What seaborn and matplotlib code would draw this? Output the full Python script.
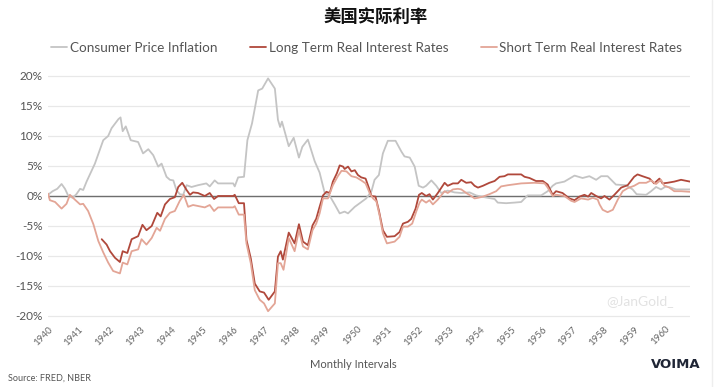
import pandas as pd
import seaborn as sns
from matplotlib import pyplot as plt
from matplotlib.lines import Line2D

# values (x = fractional year, y = percent)
cpi_x = [1940.00, 1940.15, 1940.30, 1940.44, 1940.55, 1940.66, 1940.80, 1940.92, 1941.04, 1941.14,
         1941.25, 1941.52, 1941.79, 1941.95, 1942.06, 1942.28, 1942.35, 1942.42, 1942.52, 1942.68,
         1942.92, 1943.08, 1943.25, 1943.41, 1943.57, 1943.68, 1943.84, 1943.95, 1944.06, 1944.16,
         1944.27, 1944.38, 1944.49, 1944.65, 1944.86, 1945.13, 1945.24, 1945.40, 1945.51, 1946.00,
         1946.05, 1946.16, 1946.35, 1946.46, 1946.61, 1946.81, 1946.94, 1947.13, 1947.35, 1947.45,
         1947.52, 1947.58, 1947.80, 1947.96, 1948.13, 1948.24, 1948.42, 1948.64, 1948.80, 1948.96,
         1949.13, 1949.30, 1949.45, 1949.61, 1949.72, 1949.94, 1950.10, 1950.31, 1950.48, 1950.58,
         1950.72, 1950.85, 1951.01, 1951.26, 1951.45, 1951.55, 1951.72, 1951.88, 1952.01, 1952.15,
         1952.25, 1952.42, 1952.58, 1952.74, 1952.95, 1953.17, 1953.39, 1953.66, 1953.87, 1954.14,
         1954.47, 1954.57, 1954.84, 1955.11, 1955.33, 1955.54, 1955.98, 1956.19, 1956.35, 1956.46,
         1956.73, 1957.06, 1957.32, 1957.54, 1957.76, 1957.92, 1958.13, 1958.40, 1958.73, 1958.94,
         1959.07, 1959.38, 1959.54, 1959.70, 1959.86, 1960.02, 1960.18, 1960.34, 1960.80]
cpi_y = [0.2, 0.8, 1.2, 2.0, 1.2, 0.0, -0.3, 0.3, 1.2, 1.0,
         2.4, 5.4, 9.3, 10.0, 11.3, 12.8, 13.1, 10.8, 11.6, 9.3,
         9.0, 7.1, 7.8, 6.8, 4.9, 5.4, 3.2, 2.7, 2.6, 1.0,
         0.3, 0.2, 1.8, 1.5, 1.8, 2.1, 1.6, 2.6, 2.1, 2.1,
         1.6, 3.1, 3.2, 9.3, 12.1, 17.6, 17.9, 19.6, 17.9, 12.7,
         11.5, 12.4, 8.3, 9.7, 6.4, 8.2, 9.4, 5.8, 3.9, 0.6,
         0.0, -1.5, -2.9, -2.6, -2.9, -1.8, -1.2, -0.4, 0.8, 2.7,
         3.5, 7.1, 9.2, 9.2, 7.4, 6.6, 6.4, 4.9, 1.7, 1.4,
         1.7, 2.6, 1.7, 0.5, 0.9, 0.6, 0.5, 0.6, 0.1, -0.2,
         -0.5, -1.1, -1.2, -1.1, -1.0, 0.1, 0.1, 0.8, 1.7, 2.1,
         2.4, 3.4, 3.0, 3.3, 2.7, 3.3, 3.3, 1.9, 1.8, 1.1,
         0.3, 0.2, 0.8, 1.5, 1.1, 1.6, 1.4, 1.1, 1.1]

long_x = [1941.74, 1941.90, 1942.01, 1942.17, 1942.33, 1942.42, 1942.57, 1942.71, 1942.92, 1943.06,
          1943.19, 1943.36, 1943.54, 1943.65, 1943.79, 1943.95, 1944.11, 1944.22, 1944.35, 1944.49,
          1944.60, 1944.70, 1944.86, 1945.08, 1945.24, 1945.38, 1945.51, 1946.00, 1946.05, 1946.18,
          1946.35, 1946.43, 1946.57, 1946.70, 1946.86, 1947.00, 1947.15, 1947.35, 1947.45, 1947.54,
          1947.61, 1947.80, 1947.99, 1948.13, 1948.26, 1948.42, 1948.57, 1948.69, 1948.80, 1948.91,
          1949.02, 1949.13, 1949.23, 1949.36, 1949.45, 1949.56, 1949.61, 1949.72, 1949.83, 1949.94,
          1950.04, 1950.15, 1950.29, 1950.40, 1950.48, 1950.61, 1950.72, 1950.85, 1950.98, 1951.23,
          1951.39, 1951.50, 1951.66, 1951.77, 1951.91, 1952.02, 1952.11, 1952.25, 1952.36, 1952.47,
          1952.63, 1952.85, 1952.95, 1953.12, 1953.28, 1953.39, 1953.55, 1953.71, 1953.82, 1953.93,
          1954.09, 1954.30, 1954.47, 1954.63, 1954.79, 1954.90, 1955.11, 1955.33, 1955.44, 1955.60,
          1955.81, 1956.03, 1956.19, 1956.35, 1956.46, 1956.67, 1956.89, 1957.06, 1957.22, 1957.38,
          1957.50, 1957.60, 1957.76, 1957.92, 1958.03, 1958.19, 1958.35, 1958.57, 1958.78, 1958.99,
          1959.10, 1959.26, 1959.49, 1959.64, 1959.81, 1959.91, 1960.07, 1960.29, 1960.51, 1960.80]
long_y = [-7.2, -8.1, -9.2, -10.3, -11.0, -9.2, -9.5, -7.2, -6.7, -4.8,
          -5.7, -5.0, -2.8, -3.4, -1.4, -0.5, -0.2, 1.5, 2.2, 1.0,
          0.2, 0.6, 0.5, 0.0, 0.5, -0.5, 0.0, 0.0, 0.2, -1.2,
          -1.2, -7.3, -10.4, -14.6, -15.9, -16.1, -17.3, -15.9, -10.1, -9.2,
          -10.6, -6.1, -7.9, -4.7, -7.6, -8.2, -4.9, -3.8, -1.8, 0.1,
          0.7, 0.5, 2.4, 3.8, 5.1, 4.9, 4.5, 4.9, 4.1, 4.3,
          3.5, 3.1, 2.9, 1.3, 0.0, -0.1, -2.4, -5.7, -6.8, -6.7,
          -6.0, -4.6, -4.3, -3.8, -2.1, 0.2, 0.5, 0.0, 0.3, -0.6,
          0.5, 2.2, 1.7, 2.1, 2.1, 2.7, 2.2, 2.3, 1.7, 1.4,
          1.7, 2.2, 2.5, 3.2, 3.3, 3.6, 3.6, 3.6, 3.2, 3.0,
          2.5, 2.5, 1.9, 0.2, 0.8, 0.5, -0.4, -0.7, -0.1, 0.2,
          -0.1, 0.5, 0.0, -0.4, 0.0, -0.6, 0.2, 1.4, 1.8, 3.2,
          3.6, 3.3, 2.9, 2.1, 2.9, 2.1, 2.2, 2.4, 2.7, 2.4]

short_x = [1940.00, 1940.06, 1940.23, 1940.44, 1940.60, 1940.71, 1940.87, 1941.04, 1941.14, 1941.30,
           1941.47, 1941.63, 1941.79, 1941.95, 1942.11, 1942.33, 1942.42, 1942.57, 1942.71, 1942.92,
           1943.03, 1943.19, 1943.36, 1943.52, 1943.63, 1943.79, 1943.95, 1944.11, 1944.27, 1944.40,
           1944.54, 1944.70, 1945.08, 1945.24, 1945.38, 1945.51, 1946.00, 1946.05, 1946.18, 1946.35,
           1946.43, 1946.57, 1946.70, 1946.86, 1947.00, 1947.13, 1947.35, 1947.45, 1947.54, 1947.63,
           1947.80, 1947.99, 1948.13, 1948.26, 1948.42, 1948.57, 1948.69, 1948.80, 1948.91, 1949.07,
           1949.23, 1949.39, 1949.51, 1949.67, 1949.83, 1949.99, 1950.15, 1950.29, 1950.42, 1950.53,
           1950.64, 1950.75, 1950.85, 1950.98, 1951.23, 1951.39, 1951.50, 1951.66, 1951.80, 1951.93,
           1952.04, 1952.11, 1952.25, 1952.36, 1952.47, 1952.63, 1952.85, 1952.95, 1953.12, 1953.28,
           1953.39, 1953.55, 1953.71, 1953.82, 1953.93, 1954.09, 1954.30, 1954.52, 1954.68, 1954.90,
           1955.33, 1955.76, 1956.09, 1956.19, 1956.35, 1956.46, 1956.73, 1956.95, 1957.06, 1957.27,
           1957.50, 1957.65, 1957.81, 1957.87, 1957.97, 1958.13, 1958.30, 1958.46, 1958.62, 1958.78,
           1958.99, 1959.16, 1959.38, 1959.54, 1959.70, 1959.86, 1959.97, 1960.13, 1960.29, 1960.51,
           1960.80]
short_y = [0.4, -0.7, -1.0, -2.1, -1.3, 0.2, -0.6, -1.4, -1.3, -2.5,
           -4.7, -7.5, -9.4, -11.1, -12.5, -12.9, -11.1, -11.4, -9.2, -8.9,
           -7.2, -8.1, -7.0, -5.3, -5.8, -3.8, -2.8, -2.5, -0.8, 0.2,
           -1.8, -1.5, -1.9, -1.5, -2.5, -1.9, -1.9, -1.7, -3.1, -3.1,
           -7.9, -11.2, -15.7, -17.3, -17.9, -19.2, -17.9, -11.2, -11.2, -12.3,
           -7.0, -9.2, -5.7, -8.4, -8.9, -5.7, -4.6, -2.9, -0.4, -0.4,
           1.8, 3.3, 4.2, 4.1, 3.3, 3.1, 2.6, 2.1, 0.5, -0.4,
           -0.9, -3.4, -6.2, -7.9, -7.6, -6.8, -5.1, -5.1, -4.6, -2.6,
           -1.1, -0.6, -1.1, -0.7, -1.4, -0.6, 0.8, 0.5, 1.1, 1.2,
           1.1, 0.5, 0.0, -0.4, -0.3, -0.1, 0.3, 0.8, 1.6, 1.8,
           2.1, 2.2, 2.1, 1.4, 0.0, 0.2, 0.0, -0.8, -1.0, -0.4,
           -0.6, -0.3, -0.6, -1.4, -2.3, -2.7, -2.3, -0.6, 0.8, 1.3,
           1.7, 2.2, 2.2, 2.6, 2.0, 2.7, 1.7, 1.4, 0.8, 0.8,
           0.7]

series_names = ["Consumer Price Inflation", "Long Term Real Interest Rates", "Short Term Real Interest Rates"]
colors = ["#c4c4c4", "#b0483b", "#e3a596"]
years = list(range(1940, 1961))

df = pd.concat([
    pd.DataFrame({"year": cpi_x, "rate": cpi_y, "series": series_names[0]}),
    pd.DataFrame({"year": long_x, "rate": long_y, "series": series_names[1]}),
    pd.DataFrame({"year": short_x, "rate": short_y, "series": series_names[2]}),
])

sns.set_style("white")
plt.rcParams["font.family"] = ["Lato", "DejaVu Sans"]

fig = plt.figure(figsize=(7.19, 3.87), dpi=100)
ax = fig.add_axes([48 / 719, 1 - 319 / 387, 642 / 719, 246 / 387])

sns.lineplot(data=df, x="year", y="rate", hue="series", hue_order=series_names,
             palette=colors, estimator=None, sort=True, linewidth=1.3, ax=ax)

ax.set_xlim(1940.0, 1960.80)
ax.set_ylim(-20.5, 20.5)
ax.set_yticks(range(-20, 21, 5))
ax.set_yticklabels(["%d%%" % v for v in range(-20, 21, 5)], fontsize=8.5, color="#555555")
ax.set_xticks(years)
ax.set_xticklabels([str(y) for y in years], rotation=45, ha="right", rotation_mode="anchor",
                   fontsize=7, color="#666666")
ax.tick_params(axis="both", length=0, pad=4)
ax.yaxis.grid(True, color="#e8e8e8", linewidth=0.9)
ax.axhline(0, color="#6e6e6e", linewidth=1.0, zorder=1)
for s in ax.spines.values():
    s.set_visible(False)
ax.set_xlabel("")
ax.set_ylabel("")

sns.move_legend(ax, "center", bbox_to_anchor=(0.51, 1 - 48 / 387), bbox_transform=fig.transFigure,
                ncol=3, frameon=False, title=None, fontsize=9.7, handlelength=1.2,
                handletextpad=0.2, columnspacing=2.4)
for t in ax.get_legend().get_texts():
    t.set_color("#555555")

fig.text(0.523, 1 - 18 / 387, "美国实际利率", ha="center", va="center", fontsize=12.5,
         fontweight="bold", family=["Noto Sans CJK SC", "DejaVu Sans"], color="#111111")
fig.text(353 / 719, 1 - 365 / 387, "Monthly Intervals", ha="center", va="center", fontsize=8,
         color="#555555")
fig.text(8 / 719, 1 - 378 / 387, "Source: FRED, NBER", ha="left", va="center", fontsize=6.5,
         color="#555555")
fig.text(640 / 719, 1 - 301 / 387, "@JanGold_", ha="center", va="center", fontsize=10,
         color="#e2e2e2")
fig.text(701 / 719, 1 - 364 / 387, "VOIMA", ha="right", va="center", fontsize=9.5,
         fontweight="bold", family=["DejaVu Sans"], color="#1f2535")
fig.add_artist(Line2D([712 / 719, 712 / 719], [0.0, 1.0], color="#eeeeee", linewidth=1))

fig.savefig("out.png", dpi=100)
plt.close()
